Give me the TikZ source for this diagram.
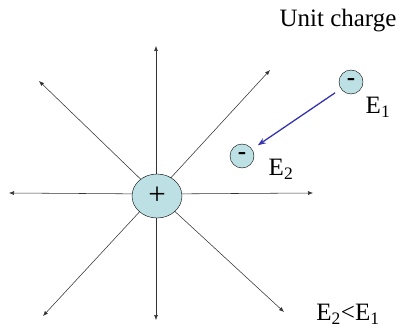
\documentclass[tikz,border=0pt]{standalone}
\usepackage{fontspec}
\setmainfont{Liberation Serif}
\usetikzlibrary{positioning, arrows.meta, shapes.geometric}
\definecolor{chargecyan}{HTML}{BCE0E4}
\definecolor{moveblue}{HTML}{3434B0}

\begin{document}
\begin{tikzpicture}[x=1pt, y=-1pt, font=\fontsize{25}{28}\selectfont,
    fieldline/.style={draw=black!80, line width=0.55pt, -{Latex[length=5pt,width=4pt]}},
    testcharge/.style={circle, draw, fill=chargecyan, minimum size=24pt, inner sep=0pt}]
  \useasboundingbox (0,0) rectangle (404,329);
  % field lines of the source charge
  \coordinate (src) at (156,194);
  \coordinate (endW) at (9,193);
  \coordinate (endE) at (313,193);
  \coordinate (endN) at (156,46);
  \coordinate (endS) at (156,320);
  \coordinate (endNW) at (39,81);
  \coordinate (endNE) at (270,70);
  \coordinate (endSW) at (43,316);
  \coordinate (endSE) at (284,312);
  \foreach \e in {endW, endE, endN, endS, endNW, endNE, endSW, endSE}
    \draw[fieldline] (src) -- (\e);
  \node[ellipse, draw, fill=chargecyan, minimum width=50pt, minimum height=44pt,
        inner sep=0pt, font=\fontsize{31}{34}\selectfont] (pos) at (157,196) {+};
  % unit charge moving in
  \node[testcharge] (near) at (242,156) {\textbf{-}};
  \node[testcharge] (far) at (351,82) {\textbf{-}};
  \draw[moveblue, line width=1.3pt, -{Stealth[length=8pt,width=6pt]},
        shorten <=7pt, shorten >=7pt] (far) -- (near);
  \node (lblfar) at (378,107) {E\textsubscript{1}};
  \node (lblnear) at (281,169) {E\textsubscript{2}};
  \node (title) at (338,21) {Unit charge};
  \node (compare) at (348,314) {E\textsubscript{2}<E\textsubscript{1}};
\end{tikzpicture}
\end{document}
